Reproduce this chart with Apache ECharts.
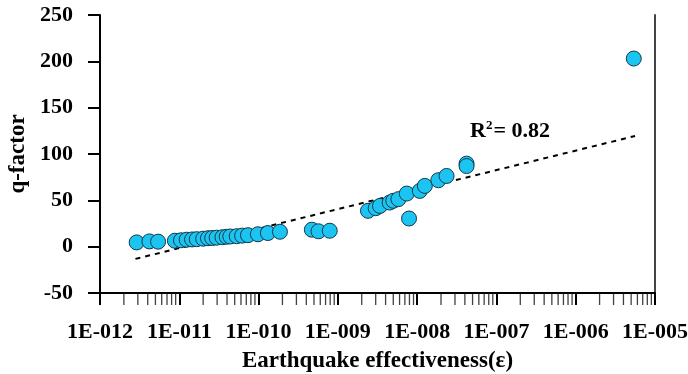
<!DOCTYPE html>
<html>
<head>
<meta charset="utf-8">
<script src="https://cdn.jsdelivr.net/npm/echarts@6/dist/echarts.min.js"></script>
<style>
html,body{margin:0;padding:0;background:#fff;}
#chart{width:688px;height:374px;}
</style>
</head>
<body>
<div id="chart"></div>
<script>
// ---- data ----
var effectiveness = [2.9e-12, 4.2e-12, 5.4e-12, 8.8e-12, 1.05e-11, 1.24e-11, 1.45e-11, 1.66e-11, 2.0e-11, 2.3e-11,
  2.6e-11, 2.96e-11, 3.5e-11, 3.96e-11, 4.4e-11, 5.3e-11, 6.2e-11, 7.35e-11, 9.8e-11, 1.31e-10,
  1.86e-10, 4.7e-10, 5.7e-10, 7.9e-10, 2.4e-9, 3.0e-9, 3.4e-9, 4.5e-9, 5.0e-9, 5.8e-9,
  7.4e-9, 7.9e-9, 1.08e-8, 1.25e-8, 1.85e-8, 2.35e-8, 4.2e-8, 4.2e-8, 5.4e-6];
var qFactor = [4.6, 5.7, 5.4, 6.4, 6.9, 7.5, 7.8, 8.1, 8.6, 9.1,
  9.4, 9.7, 10.2, 10.7, 11.0, 11.3, 11.9, 12.4, 13.4, 14.7,
  16.1, 18.3, 16.6, 17.2, 38.7, 41.5, 44.0, 47.6, 49.5, 51.3,
  57.3, 30.4, 60.2, 65.6, 71.7, 76.3, 89.6, 87.0, 203.0];
var trendX = [2.8e-12, 5.6e-6];
var trendQ = [-13.2, 119.4];
var xTickLabels = ['1E-012', '1E-011', '1E-010', '1E-009', '1E-008', '1E-007', '1E-006', '1E-005'];
var yTicks = [-50, 0, 50, 100, 150, 200, 250];
var minorMultipliers = [2, 3, 4, 5, 6, 7, 8, 9];
var r2Text = '0.82';

// ---- build ----
var minExp = -12, maxExp = -5;
var points = effectiveness.map(function (x, i) { return [x, qFactor[i]]; });
var trend = trendX.map(function (x, i) { return [x, trendQ[i]]; });
var minorTicks = [];
for (var e = minExp; e < maxExp; e++) {
  minorMultipliers.forEach(function (m) { minorTicks.push([m * Math.pow(10, e), yTicks[0]]); });
}
var font = '"Liberation Serif", "Times New Roman", serif';

var chart = echarts.init(document.getElementById('chart'), null, {renderer: 'canvas'});
chart.setOption({
  animation: false,
  backgroundColor: '#fff',
  grid: {left: 100, right: 33, top: 15, bottom: 81, containLabel: false, outerBoundsMode: 'none'},
  xAxis: {
    type: 'log', logBase: 10,
    min: Math.pow(10, minExp), max: Math.pow(10, maxExp),
    name: 'Earthquake effectiveness(ε)',
    nameLocation: 'middle', nameGap: 57,
    nameTextStyle: {fontFamily: font, fontWeight: 'bold', fontSize: 23, color: '#000'},
    axisLine: {show: true, onZero: false, lineStyle: {color: '#000', width: 2}},
    axisTick: {show: true, inside: false, length: 12, lineStyle: {color: '#000', width: 2}},
    minorTick: {show: false},
    splitLine: {show: false},
    axisLabel: {
      margin: 28, fontFamily: font, fontWeight: 'bold', fontSize: 22, color: '#000',
      formatter: function (v) {
        var idx = Math.round(Math.log10(v)) - minExp;
        return xTickLabels[idx] || '';
      }
    }
  },
  yAxis: [{
    type: 'value', min: yTicks[0], max: yTicks[yTicks.length - 1], interval: 50,
    name: 'q-factor', nameLocation: 'middle', nameGap: 63,
    nameTextStyle: {fontFamily: font, fontWeight: 'bold', fontSize: 23, color: '#000'},
    axisLine: {show: true, onZero: false, lineStyle: {color: '#000', width: 2}},
    axisTick: {show: true, inside: false, length: 12, lineStyle: {color: '#000', width: 2}},
    splitLine: {show: false},
    axisLabel: {margin: 27, fontFamily: font, fontWeight: 'bold', fontSize: 22, color: '#000'}
  }, {
    type: 'value', position: 'right', min: yTicks[0], max: yTicks[yTicks.length - 1], interval: 50,
    axisLine: {show: true, onZero: false, lineStyle: {color: '#444', width: 2}},
    axisTick: {show: false}, axisLabel: {show: false}, splitLine: {show: false}
  }],
  series: [{
    type: 'scatter', data: minorTicks, symbol: 'rect', symbolSize: [1.3, 12], symbolOffset: [0, 6],
    itemStyle: {color: '#111'}, silent: true, clip: false, z: 1
  }, {
    type: 'line', data: trend, symbol: 'none', silent: true,
    lineStyle: {color: '#000', width: 2, type: [5, 5]}, z: 2
  }, {
    type: 'scatter', data: points, symbol: 'circle', symbolSize: 15,
    itemStyle: {color: '#1CC4F2', borderColor: '#12394a', borderWidth: 1, opacity: 1}, z: 3
  }],
  graphic: [{
    type: 'text', left: 470, top: 119,
    style: {
      text: '{r|R}{s|2}{r|= ' + r2Text + '}',
      rich: {
        r: {fontFamily: font, fontWeight: 'bold', fontSize: 22, fill: '#000', lineHeight: 25},
        s: {fontFamily: font, fontWeight: 'bold', fontSize: 13, fill: '#000', verticalAlign: 'top', lineHeight: 25, padding: [0, 1, 10, 0]}
      }
    }
  }]
});
</script>
</body>
</html>
